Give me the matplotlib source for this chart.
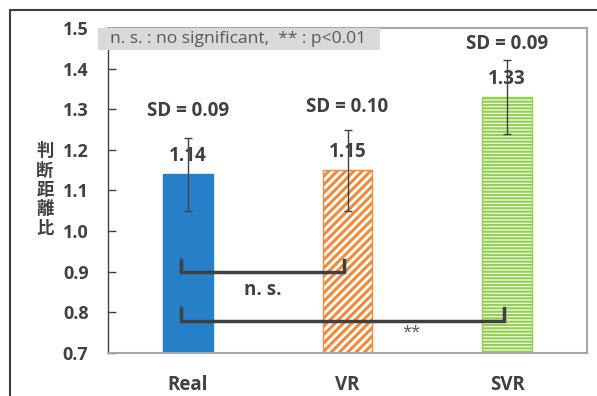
import matplotlib
matplotlib.use('Agg')
import matplotlib.pyplot as plt
from matplotlib.lines import Line2D
from matplotlib.patches import Rectangle

# data
categories = ['Real', 'VR', 'SVR']
means = [1.14, 1.15, 1.33]
sds = [0.09, 0.10, 0.09]
y_ticks = [0.7, 0.8, 0.9, 1.0, 1.1, 1.2, 1.3, 1.4, 1.5]
# significance brackets: (left bar, right bar, level, label, label x)
brackets = [(0, 1, 0.90, 'n. s.', 0.47), (0, 2, 0.78, '**', 1.40)]
note = 'n. s. : no significant,  ** : p<0.01'
ylabel = '判断距離比'

dark = '#404040'
plt.rcParams['font.family'] = ['Open Sans', 'Noto Sans CJK JP', 'DejaVu Sans']

fig = plt.figure(figsize=(5.97, 3.96), dpi=100)
ax = fig.add_axes([108/597, 1-353/396, 479/597, 325/396])

x = list(range(len(categories)))
face = ['#2680c8', 'white', 'white']
edge = ['#2680c8', '#f08a3c', '#92d050']
hatch = [None, '////', '-----']
hatch_lw = [1, 2.2, 1.6]
for i in x:
    plt.rcParams['hatch.color'] = edge[i]
    plt.rcParams['hatch.linewidth'] = hatch_lw[i]
    ax.bar(i, means[i] - 0.7, bottom=0.7, width=0.31, color=face[i],
           edgecolor=edge[i], hatch=hatch[i], linewidth=1, zorder=2)
ax.errorbar(x, means, yerr=sds, fmt='none', ecolor=dark, elinewidth=1,
            capsize=3, capthick=1, zorder=4)

for i in x:
    ax.text(i, means[i] + 0.045, f'{means[i]:.2f}', ha='center', va='center',
            fontsize=13.5, fontweight='bold', color=dark, zorder=5)
    ax.text(i, min(means[i] + 0.155, 1.46), f'SD = {sds[i]:.2f}', ha='center',
            va='center', fontsize=13.5, fontweight='bold', color=dark, zorder=5)

for a, b, lvl, lab, lx in brackets:
    ax.plot([a - 0.04, a - 0.04, b - 0.02, b - 0.02],
            [lvl + 0.03, lvl, lvl, lvl + 0.03],
            color=dark, linewidth=2.5, zorder=6, solid_joinstyle='miter')
    if lab == 'n. s.':
        ax.text(lx, lvl - 0.045, lab, ha='center', va='center', fontsize=13.5,
                fontweight='bold', color=dark, zorder=6)
    else:
        ax.text(lx, lvl - 0.03, lab, ha='center', va='center', fontsize=12,
                color='#595959', zorder=6)

ax.set_xlim(-0.5, 2.5)
ax.set_ylim(0.7, 1.5)
ax.set_yticks(y_ticks)
ax.set_yticklabels([f'{t:.1f}' for t in y_ticks])
ax.set_xticks(x)
ax.set_xticklabels(categories)
ax.tick_params(axis='y', direction='in', length=6, width=1, color=dark,
               pad=14, labelsize=13, labelcolor=dark)
ax.tick_params(axis='x', length=0, pad=16, labelsize=13.5, labelcolor=dark)
for lbl in ax.get_xticklabels() + ax.get_yticklabels():
    lbl.set_fontweight('bold')

ax.spines['left'].set_color(dark)
ax.spines['left'].set_linewidth(1)
for s in ['top', 'right', 'bottom']:
    ax.spines[s].set_color('#a6a6a6')
    ax.spines[s].set_linewidth(1.5)

# note box
ax.add_patch(Rectangle((-0.021, 0.932), 0.589, 0.068, transform=ax.transAxes,
                       facecolor='#d9d9d9', edgecolor='none', clip_on=False,
                       zorder=10))
ax.text(0.004, 0.966, note, transform=ax.transAxes, ha='left', va='center',
        fontsize=12.6, color='#595959', zorder=11)

# vertical y label
fig.text(45/597, 1-190/396, '\n'.join(ylabel), ha='center', va='center',
         fontsize=12.5, fontweight='bold', color=dark, linespacing=1.1,
         family=['Noto Sans CJK JP', 'DejaVu Sans'])

# outer frame (cropped)
fig.add_artist(Line2D([10/597, 1], [1-10/396, 1-10/396], color=dark, linewidth=1.5))
fig.add_artist(Line2D([10/597, 10/597], [0, 1-10/396], color=dark, linewidth=1.5))

fig.savefig('out.png', dpi=100)
